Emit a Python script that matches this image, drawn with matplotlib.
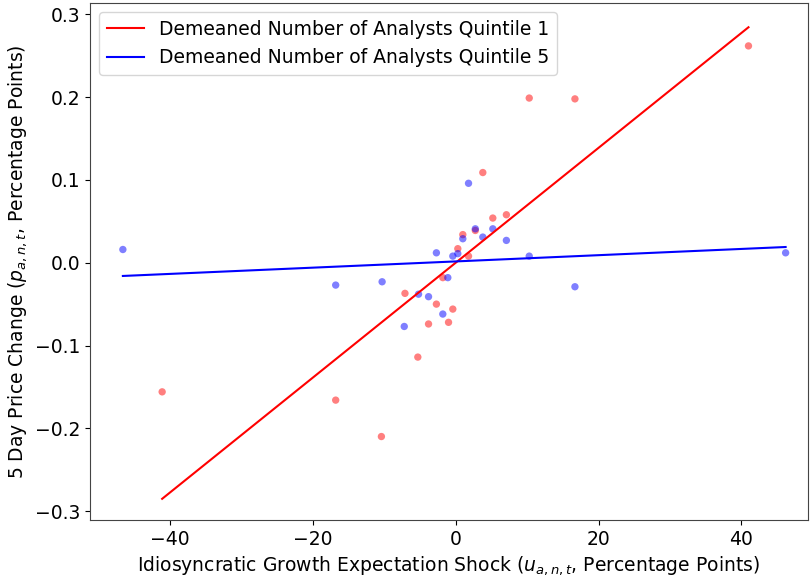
import numpy as np
import matplotlib.pyplot as plt

# binned scatter, quintile 1 (red) and quintile 5 (blue)
x_q1 = [-41.1, -16.8, -10.4, -7.1, -5.3, -3.8, -2.7, -1.8, -1.0, -0.4,
        0.3, 1.0, 1.8, 2.75, 3.8, 5.2, 7.1, 10.3, 16.7, 41.0]
y_q1 = [-0.156, -0.166, -0.210, -0.037, -0.114, -0.074, -0.050, -0.018, -0.072, -0.056,
        0.017, 0.034, 0.008, 0.039, 0.109, 0.054, 0.058, 0.199, 0.198, 0.262]

x_q5 = [-46.6, -16.8, -10.3, -7.2, -5.2, -3.8, -2.7, -1.8, -1.1, -0.4,
        0.3, 1.0, 1.8, 2.75, 3.8, 5.2, 7.1, 10.3, 16.7, 46.2]
y_q5 = [0.016, -0.027, -0.023, -0.077, -0.038, -0.041, 0.012, -0.062, -0.018, 0.008,
        0.011, 0.029, 0.096, 0.041, 0.031, 0.041, 0.027, 0.008, -0.029, 0.012]

# fitted lines (slope, intercept)
fit_q1 = (0.00694, 0.0)
fit_q5 = (0.000377, 0.0016)

plt.rcParams['font.size'] = 13.5

fig, ax = plt.subplots(figsize=(8.11, 5.76), dpi=100)
fig.subplots_adjust(left=0.111, right=0.996, top=0.995, bottom=0.097)

ax.scatter(x_q1, y_q1, color='red', alpha=0.5, s=28, edgecolors='none')
ax.scatter(x_q5, y_q5, color='blue', alpha=0.5, s=28, edgecolors='none')

xl = np.array([min(x_q1), max(x_q1)])
ax.plot(xl, fit_q1[0] * xl + fit_q1[1], color='red', lw=1.5,
        label='Demeaned Number of Analysts Quintile 1')
xl = np.array([min(x_q5), max(x_q5)])
ax.plot(xl, fit_q5[0] * xl + fit_q5[1], color='blue', lw=1.5,
        label='Demeaned Number of Analysts Quintile 5')

ax.set_xlim(-51.2, 49.3)
ax.set_ylim(-0.311, 0.314)
ax.set_xticks([-40, -20, 0, 20, 40])
ax.set_yticks([-0.3, -0.2, -0.1, 0.0, 0.1, 0.2, 0.3])

ax.set_xlabel(r'Idiosyncratic Growth Expectation Shock ($u_{a,n,t}$, Percentage Points)')
ax.set_ylabel(r'5 Day Price Change ($p_{a,n,t}$, Percentage Points)')
ax.legend(loc='upper left')

for sp in ax.spines.values():
    sp.set_color('#444444')

plt.savefig('out.png', dpi=100)
